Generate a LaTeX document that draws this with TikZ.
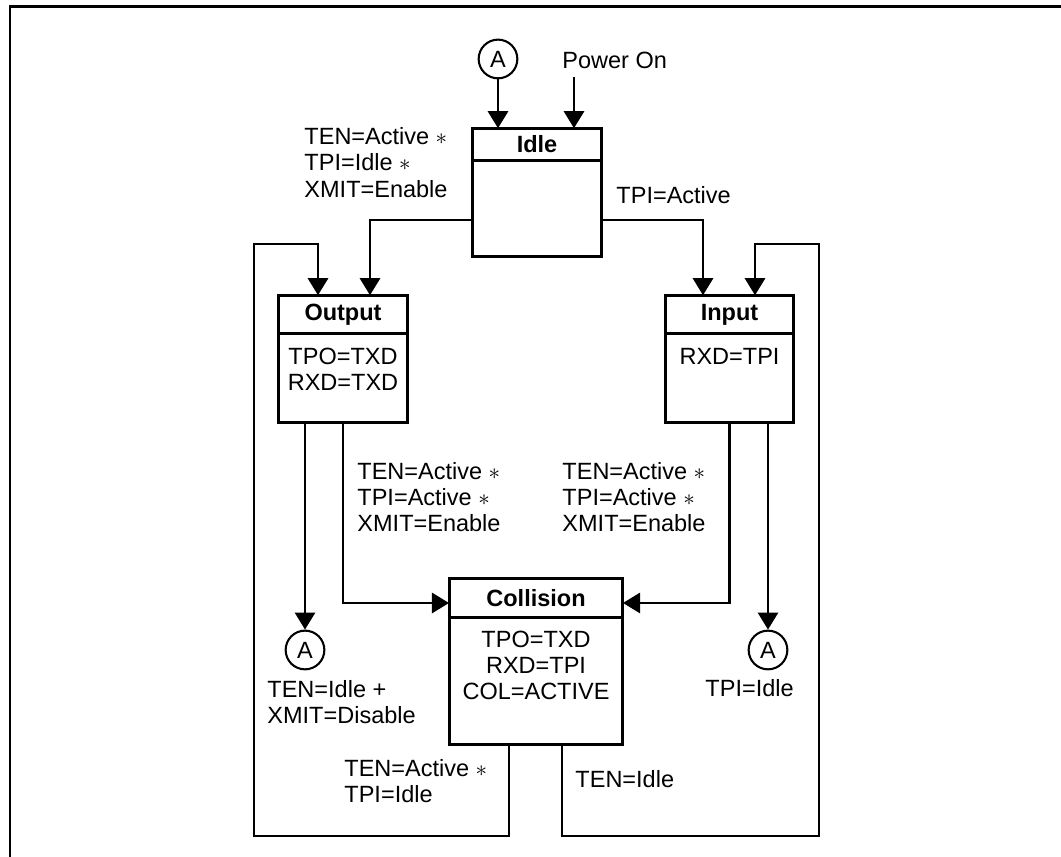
\documentclass[tikz,border=0pt]{standalone}
\usepackage{fontspec}
\setmainfont{Liberation Sans}
\usetikzlibrary{arrows.meta,positioning}

\begin{document}
\begin{tikzpicture}[x=0.434pt,y=0.434pt,
  font=\fontsize{10.2}{11.4}\selectfont,
  head/.style={draw,line width=1.3pt,minimum width=55.8pt,minimum height=16.7pt,inner sep=0pt,outer sep=0pt,font=\fontsize{10.2}{11.4}\selectfont\bfseries},
  body/.style={draw,line width=1.3pt,minimum width=55.8pt,anchor=north,inner sep=0pt,outer sep=0pt},
  circ/.style={circle,draw,line width=0.9pt,minimum size=16.8pt,inner sep=0pt},
  lbl/.style={anchor=west,align=left,inner sep=0pt},
  flow/.style={line width=1.2pt,-{Triangle[length=7.4pt,width=8.7pt]}}]
\useasboundingbox (0,0) rectangle (1061,857);
\draw[line width=1.3pt] (10,0) -- (10,850) -- (1061,850);

\node[head,minimum height=14.1pt] (idle) at (537,712.5) {Idle};
\node[body,minimum height=41.4pt] (idleb) at (idle.south) {};
\node[head] (out) at (343,542.5) {Output};
\node[body,minimum height=38.4pt] (outb) at (out.south) {};
\node[align=center] (outtxt) at (343,487.5) {TPO=TXD\\RXD=TXD};
\node[head] (in) at (729.5,542.5) {Input};
\node[body,minimum height=38.4pt] (inb) at (in.south) {};
\node[align=center] (intxt) at (729.5,500.3) {RXD=TPI};
\node[head,minimum width=75.5pt] (coll) at (536,259) {Collision};
\node[body,minimum width=75.5pt,minimum height=55.1pt] (collb) at (coll.south) {};
\node[align=center] (colltxt) at (536,191.5) {TPO=TXD\\RXD=TPI\\COL=ACTIVE};

\node[circ] (atop) at (498,798) {A};
\node[circ] (aout) at (305,207) {A};
\node[circ] (ain) at (768,207) {A};
\node[lbl] (pon) at (562,797) {Power On};
\coordinate (pin) at (574,780);

\draw[flow] (atop) -- (atop |- idle.north);
\draw[flow] (pin) -- (pin |- idle.north);
\coordinate (tl) at (370,637);
\draw[flow] (idleb.west |- tl) -- (tl) -- (tl |- out.north);
\coordinate (tr) at (703,637);
\draw[flow] (idleb.east |- tr) -- (tr) -- (tr |- in.north);
\draw[flow] (outb.south -| aout) -- (aout);
\coordinate (cl) at (343,254);
\draw[flow] (outb.south) -- (cl) -- (cl -| coll.west);
\coordinate (cr) at (729.5,254);
\draw[flow] (inb.south) -- (cr) -- (cr -| coll.east);
\draw[flow] (inb.south -| ain) -- (ain);
\coordinate (lb) at (509,21);
\coordinate (lt) at (254,613);
\coordinate (lo) at (318,613);
\draw[flow] (collb.south -| lb) -- (lb) -| (lt) -- (lo) -- (lo |- out.north);
\coordinate (rb) at (562,21);
\coordinate (rt) at (819,613);
\coordinate (ro) at (755,613);
\draw[flow] (collb.south -| rb) -- (rb) -| (rt) -- (ro) -- (ro |- in.north);

\node[lbl] (l1) at (304,694.5) {TEN=Active $\ast$\\TPI=Idle $\ast$\\XMIT=Enable};
\node[lbl] (l2) at (616,662) {TPI=Active};
\node[lbl] (l3) at (357,360) {TEN=Active $\ast$\\TPI=Active $\ast$\\XMIT=Enable};
\node[lbl] (l4) at (562,360) {TEN=Active $\ast$\\TPI=Active $\ast$\\XMIT=Enable};
\node[lbl] (l5) at (267,155) {TEN=Idle +\\XMIT=Disable};
\node[lbl] (l6) at (705,168.7) {TPI=Idle};
\node[lbl] (l7) at (344,76) {TEN=Active $\ast$\\TPI=Idle};
\node[lbl] (l8) at (575,78) {TEN=Idle};
\end{tikzpicture}
\end{document}
